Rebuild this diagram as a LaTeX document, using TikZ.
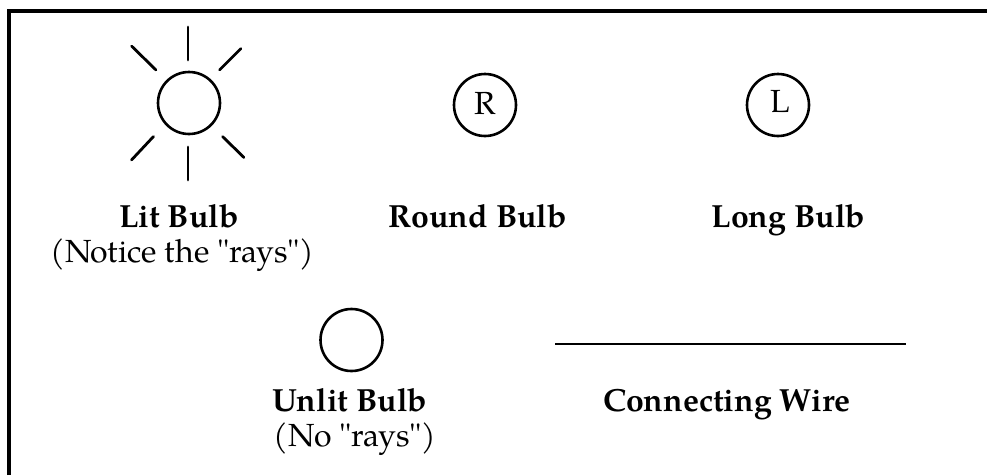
\documentclass[tikz,border=0pt]{standalone}
\usepackage{fontspec}
\newfontfamily\pal{TeX Gyre Pagella}
\tikzset{
  bulb/.style={circle,draw=black,line width=2.6pt,minimum size=62pt,inner sep=0pt},
  ray/.style={draw=black,line width=2.8pt,line cap=round},
  lab/.style={inner sep=0pt,anchor=base,font=\pal\fontsize{32}{36}\selectfont,text=black,align=center},
  edgeline/.style={draw=black,line width=3.2pt}
}
\begin{document}
\begin{tikzpicture}[x=1pt,y=-1pt]
\useasboundingbox (0,0) rectangle (987,475);
\coordinate (fa) at (9,475); \coordinate (fb) at (9,11); \coordinate (fc) at (987,11);
\draw[edgeline] (fa) -- (fb) -- (fc);
\node[bulb] (lit) at (189,103) {};
\node[bulb] (r) at (485,105) {};
\node[bulb] (l) at (778,105) {};
\node[bulb] (u) at (351.5,340) {};
\node[lab] (rt) at (485.5,114.5) {R};
\node[lab] (lt) at (780,112.5) {L};
\coordinate (r1a) at (188,27); \coordinate (r1b) at (188,60);
\coordinate (r2a) at (188,147); \coordinate (r2b) at (188,180);
\coordinate (r3a) at (131.5,46) ; \coordinate (r3b) at (156,70);
\coordinate (r4a) at (241,48.5); \coordinate (r4b) at (219.5,70);
\coordinate (r5a) at (131.5,160); \coordinate (r5b) at (153.5,136.5);
\coordinate (r6a) at (244,157.5); \coordinate (r6b) at (222.5,136.5);
\foreach \i in {1,...,6} \draw[ray] (r\i a) -- (r\i b);
\coordinate (wa) at (555,344); \coordinate (wb) at (906,344);
\draw[ray,line cap=butt] (wa) -- (wb);
\node[lab] (t1) at (179,227) {\textbf{Lit Bulb}};
\node[lab] (t2) at (182.5,262) {(Notice the "rays")};
\node[lab] (t3) at (478,227) {\textbf{Round Bulb}};
\node[lab] (t4) at (788.5,227) {\textbf{Long Bulb}};
\node[lab] (t5) at (350,411) {\textbf{Unlit Bulb}};
\node[lab] (t6) at (355,446) {(No "rays")};
\node[lab] (t7) at (727,411) {\textbf{Connecting Wire}};
\end{tikzpicture}
\end{document}
